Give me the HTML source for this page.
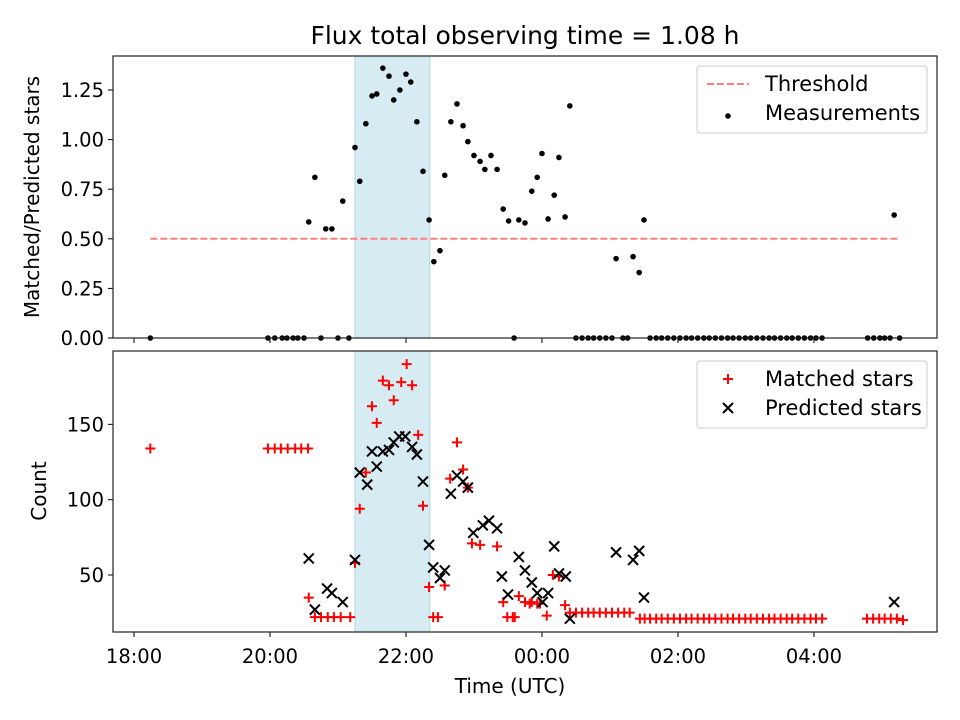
<!DOCTYPE html>
<html><head><meta charset="utf-8"><style>
body{margin:0;background:#fff;}
svg{display:block;font-family:"DejaVu Sans","Liberation Sans",sans-serif;}
</style></head><body>
<svg id="c" width="960" height="720" viewBox="0 0 960 720" xmlns="http://www.w3.org/2000/svg">
<rect width="960" height="720" fill="#fff"/>
<text x="525" y="44" font-size="25" text-anchor="middle">Flux total observing time = 1.08 h</text>
<text x="510" y="693" font-size="20" text-anchor="middle">Time (UTC)</text>
<text transform="translate(39,197) rotate(-90)" font-size="20" text-anchor="middle">Matched/Predicted stars</text>
<text transform="translate(46,491) rotate(-90)" font-size="20" text-anchor="middle">Count</text>
<g id="topPanel"></g>
<g id="botPanel"></g>
</svg>
<script>
const xTickHours=[0,2,4,6,8,10];
const xTickLabels=["18:00","20:00","22:00","00:00","02:00","04:00"];
const topTicks=[0,0.25,0.5,0.75,1.0,1.25];
const topTickLabels=["0.00","0.25","0.50","0.75","1.00","1.25"];
const botTicks=[50,100,150];
const botTickLabels=["50","100","150"];
const threshold=0.5;
const thresholdRange=[0.24,11.26];
const shadeRange=[3.25,4.35];
const ratioTimes=[0.24,1.97,2.07,2.18,2.25,2.34,2.41,2.50,2.75,3.00,3.16,5.59,
2.57,2.66,2.82,2.91,3.07,3.25,3.32,3.41,3.50,3.57,3.66,3.75,3.82,3.91,4.00,4.07,4.16,4.25,4.34,4.41,4.50,4.57,4.66,4.75,4.84,4.91,5.00,5.09,5.16,5.25,5.34,5.43,5.51,5.66,5.75,5.85,5.93,6.00,6.09,6.18,6.25,6.34,6.41,7.09,7.34,7.43,7.50,11.18,
6.50,6.59,6.68,6.76,6.85,6.94,7.03,7.19,7.26,
7.59,7.68,7.76,7.85,7.94,8.03,8.12,8.20,8.29,8.38,8.46,8.55,8.64,8.73,8.81,8.90,8.99,9.07,9.16,9.25,9.34,9.42,9.51,9.60,9.68,9.77,9.86,9.95,10.03,10.12,
10.79,10.88,10.97,11.04,11.12,11.26];
const ratioValues=[0,0,0,0,0,0,0,0,0,0,0,0,
0.585,0.81,0.55,0.55,0.69,0.96,0.79,1.08,1.22,1.23,1.36,1.32,1.20,1.25,1.33,1.29,1.09,0.84,0.595,0.385,0.44,0.82,1.09,1.18,1.07,0.99,0.92,0.89,0.85,0.92,0.85,0.65,0.59,0.595,0.58,0.74,0.81,0.93,0.60,0.72,0.91,0.61,1.17,0.40,0.41,0.33,0.595,0.62,
0,0,0,0,0,0,0,0,0,
0,0,0,0,0,0,0,0,0,0,0,0,0,0,0,0,0,0,0,0,0,0,0,0,0,0,0,0,0,0,
0,0,0,0,0,0];
const matchedTimes=[0.24,1.97,2.07,2.16,2.26,2.37,2.46,2.56,
4.01,3.66,3.75,3.93,4.09,3.82,3.50,3.57,4.18,4.75,3.41,4.84,4.65,4.91,3.32,4.25,3.25,2.57,4.34,4.57,
2.66,2.75,2.85,2.94,3.04,3.18,4.40,4.47,4.97,5.09,5.34,5.49,5.57,5.43,5.66,5.75,5.85,5.97,6.07,5.60,5.82,5.93,6.16,6.25,6.34,
6.41,6.50,6.59,6.68,6.76,6.85,6.94,7.03,7.12,7.21,7.29,
7.44,7.51,7.59,7.68,7.76,7.85,7.94,8.03,8.12,8.20,8.29,8.38,8.46,8.55,8.64,8.73,8.81,8.90,8.99,9.07,9.16,9.25,9.34,9.42,9.51,9.60,9.68,9.77,9.86,9.95,10.03,10.12,
10.78,10.87,10.96,11.04,11.13,11.22,11.31];
const matchedCounts=[134,134,134,134,134,134,134,134,
190,179,176,178,176,166,162,151,143,138,118,120,114,108,94,96,58,35,42,43,
22,22,22,22,22,22,22,22,71,70,69,22,22,32,36,32,32,31,23,22,31,31,50,49,30,
25,25,25,25,25,25,25,25,25,25,25,
21,21,21,21,21,21,21,21,21,21,21,21,21,21,21,21,21,21,21,21,21,21,21,21,21,21,21,21,21,21,21,21,
21,21,21,21,21,21,20];
const predictedTimes=[2.57,2.66,2.84,2.91,3.07,3.25,3.32,3.43,3.50,3.57,3.66,3.75,3.82,3.90,3.99,4.09,4.16,4.25,4.34,4.40,4.50,4.57,4.66,4.75,4.84,4.91,4.99,5.13,5.22,5.34,5.41,5.50,5.66,5.75,5.85,5.93,6.01,6.09,6.18,6.25,6.35,6.41,7.09,7.34,7.43,7.50,11.18];
const predictedCounts=[61,27,41,38,32,60,118,110,132,122,132,133,138,142,142,135,130,112,70,55,48,53,104,116,112,108,78,83,86,81,49,37,62,53,45,38,32,38,69,51,49,21,65,60,66,35,32];

const NS="http://www.w3.org/2000/svg";
const L=113,R=937,X0=-0.309,X1=11.81;
const xs=h=>L+(h-X0)/(X1-X0)*(R-L);
const TP={top:56,bottom:338,min:0,max:1.4214};
const BP={top:351,bottom:632,min:12.15,max:198.7};
const ys=(p,v)=>p.bottom-(v-p.min)/(p.max-p.min)*(p.bottom-p.top);
function mk(parent,tag,attrs){const e=document.createElementNS(NS,tag);for(const k in attrs)e.setAttribute(k,attrs[k]);parent.appendChild(e);return e;}

function panel(g,P,ticks,labels,showX){
  const s=mk(g,'rect',{x:xs(shadeRange[0]),y:P.top,width:xs(shadeRange[1])-xs(shadeRange[0]),height:P.bottom-P.top,fill:'#add8e6','fill-opacity':0.5,stroke:'#add8e6'});
  
  
  ticks.forEach((v,i)=>{
    const y=ys(P,v);
    mk(g,'line',{x1:L-5,x2:L,y1:y,y2:y,stroke:'#000','stroke-width':1});
    const t=mk(g,'text',{x:L-9,y:y+7,'font-size':19.5,'text-anchor':'end'});t.textContent=labels[i];
    
    
  });
  xTickHours.forEach((h,i)=>{
    const x=xs(h);
    mk(g,'line',{x1:x,x2:x,y1:P.bottom,y2:P.bottom+5,stroke:'#000','stroke-width':1});
    if(showX){const t=mk(g,'text',{x:x,y:P.bottom+31,'font-size':19.5,'text-anchor':'middle'});t.textContent=xTickLabels[i];
      
      }
  });
}
const topG=document.getElementById('topPanel'),botG=document.getElementById('botPanel');
panel(topG,TP,topTicks,topTickLabels,false);
panel(botG,BP,botTicks,botTickLabels,true);

const th=mk(topG,'line',{x1:xs(thresholdRange[0]),x2:xs(thresholdRange[1]),y1:ys(TP,threshold),y2:ys(TP,threshold),stroke:'#ff7f7f','stroke-width':2,'stroke-dasharray':'7,3'});


ratioTimes.forEach((h,i)=>{
  const c=mk(topG,'circle',{cx:xs(h),cy:ys(TP,ratioValues[i]),r:2.8,fill:'#000'});
  
  
});
matchedTimes.forEach((h,i)=>{
  const x=xs(h),y=ys(BP,matchedCounts[i]);
  const p=mk(botG,'path',{d:`M${x-5} ${y}H${x+5}M${x} ${y-5}V${y+5}`,stroke:'#f00','stroke-width':2});
  
  
});
predictedTimes.forEach((h,i)=>{
  const x=xs(h),y=ys(BP,predictedCounts[i]);
  const p=mk(botG,'path',{d:`M${x-5} ${y-5}L${x+5} ${y+5}M${x-5} ${y+5}L${x+5} ${y-5}`,stroke:'#000','stroke-width':2});
  
  
});
[TP,BP].forEach((P,i)=>{
  const f=mk(i?botG:topG,'rect',{x:L,y:P.top,width:R-L,height:P.bottom-P.top,fill:'none',stroke:'#222','stroke-width':1.2});
  
  
});

function legend(g,y0,items){
  const b=mk(g,'rect',{x:697,y:y0,width:230,height:67,rx:3,fill:'#fff','fill-opacity':0.8,stroke:'#ccc'});
  
  
  items.forEach((it,i)=>{
    const y=y0+18+i*29;
    const t=mk(g,'text',{x:765,y:y+7,'font-size':21});t.textContent=it.label;
    
    
    it.draw(728,y);
  });
}
legend(topG,66,[
 {label:'Threshold',draw:(x,y)=>mk(topG,'line',{x1:x-21,x2:x+21,y1:y,y2:y,stroke:'#ff7f7f','stroke-width':2,'stroke-dasharray':'7,3'})},
 {label:'Measurements',draw:(x,y)=>mk(topG,'circle',{cx:x,cy:y+3,r:2.8,fill:'#000'})}
]);
legend(botG,361,[
 {label:'Matched stars',draw:(x,y)=>mk(botG,'path',{d:`M${x-5} ${y}H${x+5}M${x} ${y-5}V${y+5}`,stroke:'#f00','stroke-width':2})},
 {label:'Predicted stars',draw:(x,y)=>mk(botG,'path',{d:`M${x-5} ${y-5}L${x+5} ${y+5}M${x-5} ${y+5}L${x+5} ${y-5}`,stroke:'#000','stroke-width':2})}
]);
</script>
</body></html>
